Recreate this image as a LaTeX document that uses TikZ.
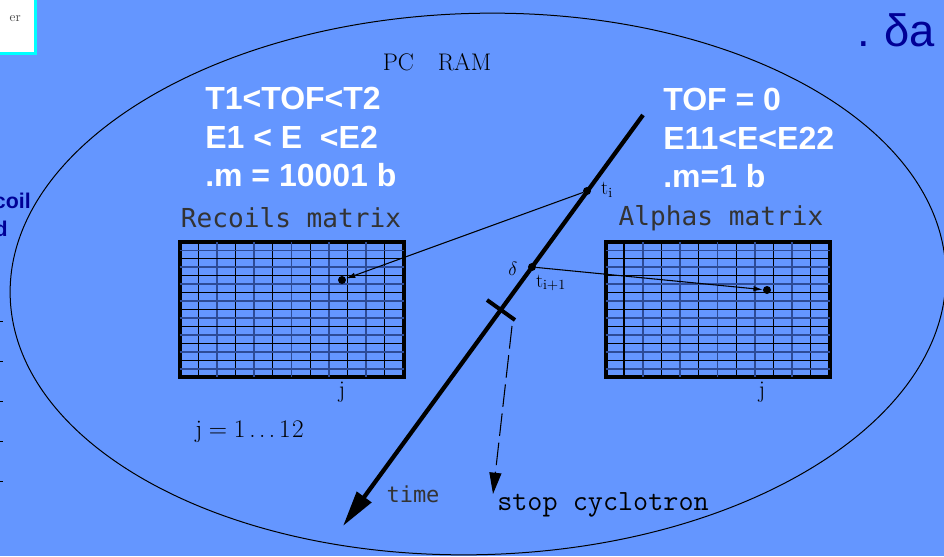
\documentclass[tikz,border=0pt]{standalone}
\usepackage{fontspec}
\newfontfamily\arialfont{Liberation Sans}
\newfontfamily\plotfont{DejaVu Sans Mono}
\usetikzlibrary{arrows.meta}
\definecolor{bgblue}{RGB}{100,150,255}
\definecolor{gridblue}{RGB}{45,75,150}
\definecolor{navy}{RGB}{0,0,150}
\definecolor{boxcyan}{RGB}{0,255,255}

\begin{document}
\begin{tikzpicture}[x=0.75pt,y=-0.75pt,
  cond/.style={align=left,anchor=north west,text=white,inner sep=0pt,
               font=\arialfont\bfseries\fontsize{24}{29}\selectfont},
  mtitle/.style={inner sep=0pt,text=black!80,font=\plotfont\fontsize{19.6}{20}\selectfont},
  mono/.style={inner sep=0pt,font=\ttfamily\fontsize{22}{22}\selectfont},
  serif/.style={inner sep=0pt,font=\fontsize{18}{18}\selectfont},
  matrixbox/.style={draw,line width=3pt,minimum width=168pt,minimum height=101pt,inner sep=0pt},
  dot/.style={circle,fill=black,minimum size=6pt,inner sep=0pt},
  axis/.style={line width=3.2pt,-{Triangle[length=27pt,width=13pt]}},
  ptr/.style={line width=0.8pt,-{Latex[length=7pt,width=4pt]}},
  stopline/.style={line width=0.8pt,dash pattern=on 17pt off 5pt,-{Triangle[length=16pt,width=9pt]}}
]
\useasboundingbox (0,0) rectangle (944,556);
\fill[bgblue] (0,0) rectangle (944,556);

% corner of the slide around
\draw[boxcyan,fill=white,line width=2.25pt] (-10,-10) rectangle (35.5,53.5);
\node[anchor=base east,text=black!70,inner sep=0pt,font=\fontsize{10}{10}\selectfont] (hdr) at (21,22) {er};
\node[anchor=base east,text=navy,inner sep=0pt,font=\arialfont\bfseries\fontsize{16}{16}\selectfont] (side1) at (31,208) {coil};
\node[anchor=base east,text=navy,inner sep=0pt,font=\arialfont\bfseries\fontsize{16}{16}\selectfont] (side2) at (8,236) {d};
\foreach \yy in {321,361,401,441,481}
  \draw[line width=0.7pt] (0,\yy) -- (3,\yy);
\node[anchor=base west,text=navy,inner sep=0pt,font=\arialfont\fontsize{34}{34}\selectfont] (corner) at (857,47) {.\hspace{11pt}δa};

% PC RAM
\draw[line width=0.75pt,rotate around={1.5:(478,284)}] (478,284) ellipse [x radius=351pt, y radius=203pt];
\node[serif] (ram) at (437,62) {PC\quad RAM};

\node[cond] (rcond) at (205,87) {T1<TOF<T2\\E1 < E\ \ <E2\\.m = 10001 b};
\node[cond] (acond) at (663,88) {TOF = 0\\E11<E<E22\\.m=1 b};

% matrices
\node[mtitle] (rtitle) at (291,218) {Recoils matrix};
\node[mtitle] (atitle) at (721,218) {Alphas matrix};
\node[matrixbox] (rec) at (291.5,309.5) {};
\node[matrixbox] (alp) at (717.5,309.5) {};
\foreach \mx in {179.5,605.5} {
  \foreach \k in {1,...,11} {
    \pgfmathsetmacro\gx{\mx+\k*224/12}
    \ifodd\k
      \draw[line width=0.75pt] (\gx,242) -- (\gx,377);
    \else
      \draw[gridblue,line width=1.4pt] (\gx,242) -- (\gx,377);
    \fi
  }
  \foreach \k in {1,...,15} {
    \pgfmathsetmacro\gy{242+\k*135/16}
    \ifodd\k
      \draw[gridblue,line width=1.4pt] (\mx,\gy) -- (\mx+224,\gy);
    \else
      \draw[line width=0.75pt] (\mx,\gy) -- (\mx+224,\gy);
    \fi
  }
}
\draw[line width=1.6pt] (624.2,242) -- (624.2,377);
\node[serif] (rj) at (342,392) {j};
\node[serif] (aj) at (762,392) {j};
\node[serif,anchor=base west,font=\fontsize{19}{19}\selectfont] (range) at (195,437)
  {j\hspace{5pt}=\hspace{5pt}1\hspace{3pt}.\hspace{2.5pt}.\hspace{2.5pt}.\hspace{3pt}1\hspace{1pt}2};

% time axis
\coordinate (ttop) at (643,115);
\coordinate (tend) at (343,526);
\draw[axis] (ttop) -- (tend);
\node[mtitle,font=\plotfont\fontsize{16.5}{17}\selectfont] (tlab) at (413,494) {time};
\node[dot] (ti) at (587,191) {};
\node[dot] (tii) at (532,267) {};
\node[inner sep=0pt,font=\fontsize{15}{15}\selectfont] (tilab) at (607,190) {$\mathrm{t_i}$};
\node[inner sep=0pt,font=\fontsize{15}{15}\selectfont] (tiilab) at (551,283) {$\mathrm{t_{i+1}}$};
\node[inner sep=0pt,font=\fontsize{15}{15}\selectfont] (dlab) at (513,269) {$\delta$};

\node[dot] (rhit) at (342,280) {};
\node[dot] (ahit) at (767,290) {};
\draw[ptr] (ti) -- (rhit);
\draw[ptr] (tii) -- (ahit);

% stop
\coordinate (cut) at (501,310);
\draw[line width=3pt] (cut) ++(-14,-10) -- ++(28,20);
\coordinate (stopfrom) at (512,326);
\coordinate (stopto) at (493,494);
\draw[stopline] (stopfrom) -- (stopto);
\node[mono] (stop) at (603,505) {stop cyclotron};
\end{tikzpicture}
\end{document}
